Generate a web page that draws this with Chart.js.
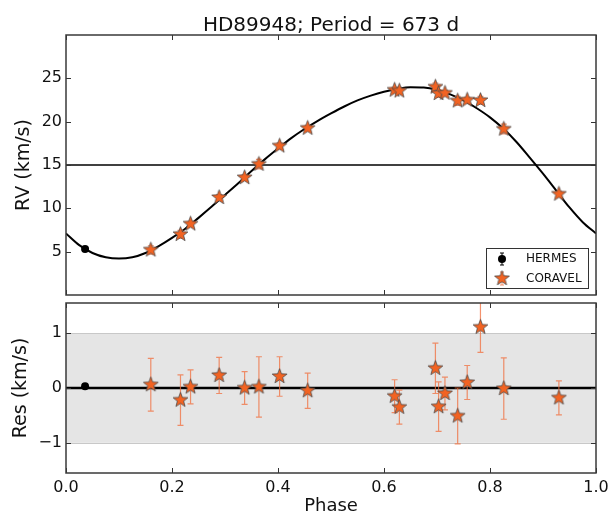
<!DOCTYPE html>
<html><head><meta charset="utf-8">
<script src="https://cdn.jsdelivr.net/npm/chart.js@4.4.1/dist/chart.umd.min.js"></script>
<style>
html,body{margin:0;padding:0;background:#fff;overflow:hidden;width:611px;height:515px;}
#top{position:absolute;left:0;top:0;width:611px;height:303px;}
#bot{position:absolute;left:0;top:295px;width:611px;height:220px;}
</style></head><body>
<div id="top"><canvas id="c1"></canvas></div>
<div id="bot"><canvas id="c2"></canvas></div>
<script>
const titleText = 'HD89948; Period = 673 d';
// model orbit curve
const curvePhase = [0,0.025,0.05,0.075,0.1,0.125,0.15,0.175,0.2,0.225,0.25,0.275,0.3,0.325,0.35,0.375,0.4,0.425,0.45,0.475,0.5,0.525,0.55,0.575,0.6,0.625,0.65,0.675,0.7,0.725,0.75,0.775,0.8,0.825,0.85,0.875,0.9,0.925,0.95,0.975,1.0];
const curveRV = [7.1,5.75,4.85,4.35,4.2,4.35,4.85,5.65,6.6,7.65,8.9,10.2,11.55,12.9,14.3,15.65,16.9,18.1,19.15,20.1,20.95,21.75,22.45,23.0,23.45,23.78,23.97,23.93,23.65,23.15,22.45,21.55,20.5,19.2,17.65,15.85,14.0,12.05,10.1,8.4,7.1];
const gammaRV = 15;
const hermesPhase = [0.036];
const hermesRV = [5.3];
const hermesRes = [0.03];
const hermesErr = [0.02];
const coravelPhase = [0.160,0.216,0.235,0.289,0.337,0.364,0.403,0.456,0.620,0.629,0.697,0.703,0.715,0.739,0.757,0.782,0.826,0.930];
const coravelRV = [5.2,7.0,8.2,11.25,13.55,15.1,17.2,19.25,23.65,23.55,24.0,23.25,23.3,22.4,22.5,22.45,19.15,11.65];
const coravelRes = [0.06,-0.22,0.02,0.23,0.00,0.02,0.21,-0.05,-0.15,-0.35,0.36,-0.34,-0.10,-0.51,0.10,1.11,-0.01,-0.18];
const coravelErr = [0.48,0.46,0.31,0.33,0.30,0.55,0.36,0.32,0.30,0.31,0.46,0.45,0.30,0.51,0.31,0.46,0.56,0.31];
const phaseTicks = [0,0.2,0.4,0.6,0.8,1.0];
const rvTicks = [5,10,15,20,25];
const resTicks = [-1,0,1];
const bandLimits = [-1,1];
const zeroLevel = 0;
const legendLabels = ['HERMES','CORAVEL'];

const FONT = "'DejaVu Sans', sans-serif";
const TXT = '#111';
const STAR_FILL = '#f26322';
const ERR_COL = 'rgba(240,110,60,0.75)';

function makeStar(r){
  const s = Math.ceil(r*2+3);
  const c = document.createElement('canvas'); c.width = s; c.height = s;
  const g = c.getContext('2d'); g.translate(s/2, s/2);
  g.beginPath();
  for (let i=0;i<10;i++){
    const rad = (i%2) ? r*0.42 : r;
    const a = -Math.PI/2 + i*Math.PI/5;
    g.lineTo(rad*Math.cos(a), rad*Math.sin(a));
  }
  g.closePath(); g.fillStyle = STAR_FILL; g.fill();
  g.lineWidth = 0.8; g.strokeStyle = '#4a4a4a'; g.stroke();
  return c;
}
const starImg = makeStar(7.8);

const pts = (xs, ys) => xs.map((x,i)=>({x:x, y:ys[i]}));
const noPad = s => { s.paddingTop = 0; s.paddingBottom = 0; s.paddingLeft = 0; s.paddingRight = 0; };

const framePlugin = {
  id:'frame',
  afterDraw(chart, args, opts){
    const {ctx, chartArea:a, scales} = chart;
    ctx.save();
    ctx.strokeStyle = '#333'; ctx.lineWidth = 1;
    const L = 5;
    ctx.beginPath();
    opts.xTicks.forEach(v=>{
      const x = Math.round(scales.x.getPixelForValue(v))+0.5;
      ctx.moveTo(x,a.bottom); ctx.lineTo(x,a.bottom-L);
      ctx.moveTo(x,a.top); ctx.lineTo(x,a.top+L);
    });
    opts.yTicks.forEach(v=>{
      const y = Math.round(scales.y.getPixelForValue(v))+0.5;
      ctx.moveTo(a.left,y); ctx.lineTo(a.left+L,y);
      ctx.moveTo(a.right,y); ctx.lineTo(a.right-L,y);
    });
    ctx.stroke();
    ctx.lineWidth = 1.5; ctx.strokeStyle = '#3a3a3a';
    ctx.strokeRect(a.left, a.top, a.width, a.height);
    ctx.restore();
  }
};

const errPlugin = {
  id:'errbars',
  beforeDatasetDraw(chart, args){
    const ds = chart.data.datasets[args.index];
    if (!ds.errors) return;
    const {ctx, scales:{x,y}, chartArea:a} = chart;
    ctx.save();
    ctx.beginPath(); ctx.rect(a.left,a.top,a.width,a.height); ctx.clip();
    ctx.strokeStyle = ds.errorColor; ctx.lineWidth = 1.2;
    ds.data.forEach((p,i)=>{
      const px = x.getPixelForValue(p.x);
      const y1 = y.getPixelForValue(p.y - ds.errors[i]);
      const y2 = y.getPixelForValue(p.y + ds.errors[i]);
      const cw = 3;
      ctx.beginPath();
      ctx.moveTo(px,y1); ctx.lineTo(px,y2);
      ctx.moveTo(px-cw,y1); ctx.lineTo(px+cw,y1);
      ctx.moveTo(px-cw,y2); ctx.lineTo(px+cw,y2);
      ctx.stroke();
    });
    ctx.restore();
  }
};

const titlePlugin = {
  id:'ttl',
  afterDraw(chart){
    const {ctx, chartArea:a} = chart;
    ctx.save();
    ctx.font = '20px ' + FONT; ctx.fillStyle = TXT;
    ctx.textAlign = 'center'; ctx.textBaseline = 'alphabetic';
    ctx.fillText(titleText, (a.left+a.right)/2, 31);
    ctx.restore();
  }
};

const legendPlugin = {
  id:'lgd',
  afterDraw(chart){
    const {ctx} = chart;
    ctx.save();
    ctx.fillStyle = '#fff'; ctx.fillRect(486.5, 248.5, 102, 40);
    ctx.strokeStyle = '#333'; ctx.lineWidth = 1;
    ctx.strokeRect(486.5, 248.5, 102, 40);
    ctx.strokeStyle = '#000'; ctx.lineWidth = 1;
    ctx.beginPath(); ctx.moveTo(502,253); ctx.lineTo(502,265);
    ctx.moveTo(500,253); ctx.lineTo(504,253); ctx.moveTo(500,265); ctx.lineTo(504,265); ctx.stroke();
    ctx.fillStyle = '#000'; ctx.beginPath(); ctx.arc(502,259,4,0,Math.PI*2); ctx.fill();
    ctx.strokeStyle = ERR_COL;
    ctx.beginPath(); ctx.moveTo(502,272); ctx.lineTo(502,285);
    ctx.moveTo(500,272); ctx.lineTo(504,272); ctx.moveTo(500,285); ctx.lineTo(504,285); ctx.stroke();
    ctx.drawImage(starImg, 502 - starImg.width/2, 278.5 - starImg.height/2);
    ctx.font = '12px ' + FONT; ctx.fillStyle = TXT;
    ctx.textAlign = 'left'; ctx.textBaseline = 'middle';
    ctx.fillText(legendLabels[0], 526, 259);
    ctx.fillText(legendLabels[1], 526, 278.5);
    ctx.restore();
  }
};

const bandPlugin = {
  id:'band',
  beforeDatasetsDraw(chart){
    const {ctx, chartArea:a, scales:{y}} = chart;
    const yt = y.getPixelForValue(bandLimits[1]);
    const yb = y.getPixelForValue(bandLimits[0]);
    ctx.save();
    ctx.fillStyle = '#e5e5e5';
    ctx.fillRect(a.left, yt, a.width, yb-yt);
    ctx.strokeStyle = '#c8c8c8'; ctx.lineWidth = 1;
    ctx.beginPath();
    ctx.moveTo(a.left, Math.round(yt)+0.5); ctx.lineTo(a.right, Math.round(yt)+0.5);
    ctx.moveTo(a.left, Math.round(yb)+0.5); ctx.lineTo(a.right, Math.round(yb)+0.5);
    ctx.stroke();
    ctx.restore();
  }
};

const common = {
  responsive:true, maintainAspectRatio:false, animation:false,
  plugins:{legend:{display:false}, tooltip:{enabled:false}},
};

const pad1 = {top:35,right:15,bottom:5,left:0};
const pad2 = {top:5,right:15,bottom:0,left:0};

const chart1 = new Chart(document.getElementById('c1'), {
  type:'scatter',
  data:{datasets:[
    {label:legendLabels[1], data:pts(coravelPhase, coravelRV), errors:coravelErr, errorColor:ERR_COL,
     pointStyle:starImg, pointRadius:7, order:0},
    {label:legendLabels[0], data:pts(hermesPhase, hermesRV), errors:hermesErr, errorColor:'#000',
     pointStyle:'circle', pointRadius:4, backgroundColor:'#000', borderColor:'#000', borderWidth:0, order:1},
    {type:'line', data:pts(curvePhase, curveRV), borderColor:'#000', borderWidth:2, pointRadius:0,
     cubicInterpolationMode:'monotone', fill:false, order:2},
    {type:'line', data:pts([0,1],[gammaRV,gammaRV]), borderColor:'#000', borderWidth:1.4, pointRadius:0, fill:false, order:3}
  ]},
  options:Object.assign({}, common, {
    layout:{padding:pad1},
    plugins:Object.assign({}, common.plugins, {frame:{xTicks:phaseTicks, yTicks:rvTicks}}),
    scales:{
      x:{type:'linear', min:0, max:1, display:false},
      y:{type:'linear', min:0, max:30,
         afterBuildTicks:s=>{s.ticks = rvTicks.map(v=>({value:v}));},
         afterFit:s=>{s.width = 66; noPad(s);},
         grid:{display:false, drawTicks:false}, border:{display:false},
         ticks:{font:{family:FONT,size:16,lineHeight:0.1}, color:TXT, padding:4},
         title:{display:true, text:'RV (km/s)', font:{family:FONT,size:19}, color:TXT, padding:{top:13,bottom:0}}}
    }
  }),
  plugins:[framePlugin, errPlugin, titlePlugin, legendPlugin]
});

const chart2 = new Chart(document.getElementById('c2'), {
  type:'scatter',
  data:{datasets:[
    {label:legendLabels[1], data:pts(coravelPhase, coravelRes), errors:coravelErr, errorColor:ERR_COL,
     pointStyle:starImg, pointRadius:7, order:0},
    {label:legendLabels[0], data:pts(hermesPhase, hermesRes),
     pointStyle:'circle', pointRadius:4, backgroundColor:'#000', borderColor:'#000', borderWidth:0, order:1},
    {type:'line', data:pts([0,1],[zeroLevel,zeroLevel]), borderColor:'#000', borderWidth:2.5, pointRadius:0, fill:false, order:3}
  ]},
  options:Object.assign({}, common, {
    layout:{padding:pad2},
    plugins:Object.assign({}, common.plugins, {frame:{xTicks:phaseTicks, yTicks:resTicks}}),
    scales:{
      x:{type:'linear', min:0, max:1,
         afterBuildTicks:s=>{s.ticks = phaseTicks.map(v=>({value:v}));},
         afterFit:s=>{s.height = 42; noPad(s);},
         grid:{display:false, drawTicks:false}, border:{display:false},
         ticks:{font:{family:FONT,size:16}, color:TXT, padding:5, maxRotation:0, autoSkip:false,
                callback:v=>Number(v).toFixed(1)},
         title:{display:true, text:'Phase', font:{family:FONT,size:18,lineHeight:1}, color:TXT, padding:0}},
      y:{type:'linear', min:-1.55, max:1.55,
         afterBuildTicks:s=>{s.ticks = resTicks.map(v=>({value:v}));},
         afterFit:s=>{s.width = 66; noPad(s);},
         grid:{display:false, drawTicks:false}, border:{display:false},
         ticks:{font:{family:FONT,size:16,lineHeight:0.1}, color:TXT, padding:4,
                callback:v=> v<0 ? '\u2212'+Math.abs(v) : String(v)},
         title:{display:true, text:'Res (km/s)', font:{family:FONT,size:19}, color:TXT, padding:{top:10,bottom:0}}}
    }
  }),
  plugins:[bandPlugin, framePlugin, errPlugin]
});

// plotting areas: top panel y 35..295, bottom panel y 303..473 (page coordinates)
function settle(chart, pad, tTop, tBottom){
  for (let k=0;k<4;k++){
    const a = chart.chartArea;
    const dTop = tTop - a.top, dBot = a.bottom - tBottom;
    if (Math.abs(dTop) < 0.25 && Math.abs(dBot) < 0.25) break;
    pad.top = Math.max(0, pad.top + dTop);
    pad.bottom = Math.max(0, pad.bottom + dBot);
    chart.options.layout.padding = Object.assign({}, pad);
    chart.update('none');
  }
}
settle(chart1, pad1, 35, 295);
settle(chart2, pad2, 8, 178);
</script>
</body></html>
